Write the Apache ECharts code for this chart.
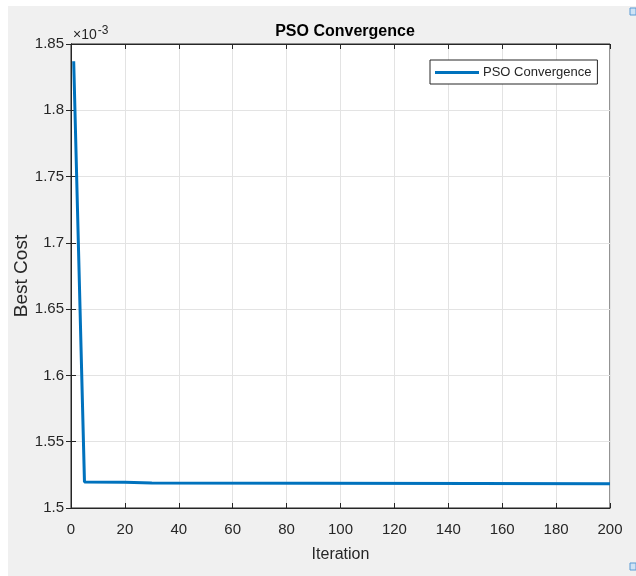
<!DOCTYPE html>
<html>
<head>
<meta charset="utf-8">
<script src="https://cdn.jsdelivr.net/npm/echarts@6/dist/echarts.min.js"></script>
<style>
  html, body { margin: 0; padding: 0; background: #ffffff; }
  #chart { position: absolute; left: 8px; top: 6px; width: 628px; height: 570px; }
</style>
</head>
<body>
<div id="chart"></div>
<script>
// Data (cost in units of 1e-3)
const iterations = [1, 5, 20, 30, 150, 200];
const bestCost = [1.837, 1.5197, 1.5194, 1.5188, 1.5185, 1.5182];
const seriesName = 'PSO Convergence';
const titleText = 'PSO Convergence';
const xName = 'Iteration';
const yName = 'Best Cost';

const points = iterations.map((it, i) => [it, bestCost[i]]);

const FONT = '"Liberation Sans", Arial, sans-serif';
const AX = '#262626';
const GRIDC = '#e3e3e3';

const chart = echarts.init(document.getElementById('chart'), null, { renderer: 'canvas' });

const baseX = {
  type: 'value', min: 0, max: 200, interval: 20
};
const baseY = {
  type: 'value', min: 1.5, max: 1.85, interval: 0.05
};

chart.setOption({
  backgroundColor: '#f0f0f0',
  animation: false,
  title: {
    text: titleText,
    left: 332, top: 13, textAlign: 'center',
    textStyle: { fontFamily: FONT, fontSize: 16, fontWeight: 'bold', color: '#000' }
  },
  grid: {
    left: 63, top: 38, right: 26, bottom: 68,
    containLabel: false,
    outerBoundsMode: 'none',
    show: true, backgroundColor: '#ffffff', borderColor: AX, borderWidth: 1
  },
  legend: {
    data: [{ name: seriesName, icon: 'rect' }],
    left: 422, top: 54,
    itemWidth: 44, itemHeight: 3, itemGap: 0,
    padding: [6, 6, 5, 5],
    backgroundColor: '#ffffff',
    borderColor: AX, borderWidth: 1, borderRadius: 0,
    textStyle: { fontFamily: FONT, fontSize: 13, color: AX, padding: [0, 0, 0, -1] }
  },
  xAxis: [
    Object.assign({}, baseX, {
      position: 'bottom',
      name: xName, nameLocation: 'middle', nameGap: 39, nameMoveOverlap: false,
      nameTextStyle: { fontFamily: FONT, fontSize: 16, color: AX },
      axisLine: { show: true, lineStyle: { color: AX, width: 1 } },
      axisTick: { show: true, inside: true, length: 5, lineStyle: { color: AX } },
      axisLabel: { fontFamily: FONT, fontSize: 15, color: AX, margin: 14 },
      splitLine: { show: true, lineStyle: { color: GRIDC, width: 1 } }
    }),
    Object.assign({}, baseX, {
      position: 'top',
      axisLine: { show: true, lineStyle: { color: AX, width: 1 } },
      axisTick: { show: true, inside: true, length: 5, lineStyle: { color: AX } },
      axisLabel: { show: false },
      splitLine: { show: false }
    })
  ],
  yAxis: [
    Object.assign({}, baseY, {
      position: 'left',
      name: yName, nameLocation: 'middle', nameGap: 40, nameRotate: 90, nameMoveOverlap: false,
      nameTextStyle: { fontFamily: FONT, fontSize: 19, color: AX },
      axisLine: { show: true, lineStyle: { color: AX, width: 1 } },
      axisTick: { show: true, inside: true, length: 5, lineStyle: { color: AX } },
      axisLabel: { fontFamily: FONT, fontSize: 15, color: AX, margin: 7 },
      splitLine: { show: true, lineStyle: { color: GRIDC, width: 1 } }
    }),
    Object.assign({}, baseY, {
      position: 'right',
      axisLine: { show: true, lineStyle: { color: AX, width: 1 } },
      axisTick: { show: true, inside: true, length: 5, lineStyle: { color: AX } },
      axisLabel: { show: false },
      splitLine: { show: false }
    })
  ],
  graphic: [
    {
      type: 'text', left: 65, top: 19,
      style: {
        text: '×10{sup|-3}',
        rich: { sup: { fontSize: 12, fontFamily: FONT, fill: AX, verticalAlign: 'top', padding: [0, 0, 8, 1] } },
        fontFamily: FONT, fontSize: 14, fill: AX
      }
    },
    { type: 'rect', shape: { x: 622, y: 2, width: 6, height: 7 }, style: { fill: '#cfe3f5', stroke: '#5a9bd5', lineWidth: 1 } },
    { type: 'rect', shape: { x: 622, y: 557, width: 6, height: 7 }, style: { fill: '#cfe3f5', stroke: '#5a9bd5', lineWidth: 1 } }
  ],
  series: [{
    name: seriesName,
    type: 'line',
    xAxisIndex: 0, yAxisIndex: 0,
    data: points,
    showSymbol: false,
    symbol: 'none',
    lineStyle: { color: '#0072BD', width: 3 },
    itemStyle: { color: '#0072BD' }
  }]
});
</script>
</body>
</html>
